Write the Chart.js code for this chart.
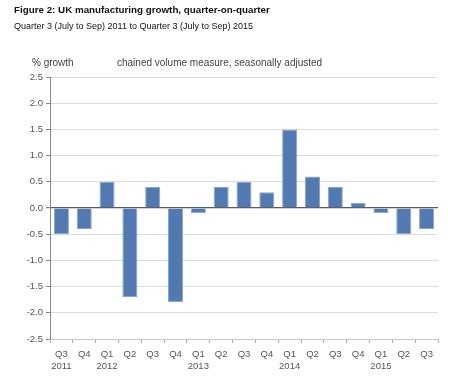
<!DOCTYPE html>
<html><head><meta charset="utf-8">
<script src="https://cdn.jsdelivr.net/npm/chart.js@4"></script>
<style>
html,body{margin:0;padding:0;background:#fff;width:460px;height:381px;overflow:hidden;font-family:"Liberation Sans",Arial,sans-serif;}
#wrap{position:relative;width:460px;height:381px;}
canvas{position:absolute;left:0;top:0;}
.t{position:absolute;white-space:nowrap;}
#title{left:14px;top:4px;font-size:9.8px;font-weight:bold;color:#111;}
#sub{left:14px;top:21px;font-size:9px;color:#111;}
#unit{left:32px;top:57px;font-size:10px;color:#444;}
#meas{left:117px;top:57px;font-size:10px;color:#444;}
</style></head>
<body><div id="wrap">
<canvas id="c" width="460" height="381"></canvas>
<div class="t" id="title">Figure 2: UK manufacturing growth, quarter-on-quarter</div>
<div class="t" id="sub">Quarter 3 (July to Sep) 2011 to Quarter 3 (July to Sep) 2015</div>
<div class="t" id="unit">% growth</div>
<div class="t" id="meas">chained volume measure, seasonally adjusted</div>
</div>
<script>
const quarters = ["Q3","Q4","Q1","Q2","Q3","Q4","Q1","Q2","Q3","Q4","Q1","Q2","Q3","Q4","Q1","Q2","Q3"];
const years    = ["2011","","2012","","","","2013","","","","2014","","","","2015","",""];
const growth   = [-0.5,-0.4,0.5,-1.7,0.4,-1.8,-0.1,0.4,0.5,0.3,1.5,0.6,0.4,0.1,-0.1,-0.5,-0.4];
const yMin = -2.5, yMax = 2.5, yStep = 0.5;

const labels = quarters.map((q,i)=> years[i] ? [q, years[i]] : [q]);

new Chart(document.getElementById('c'), {
  type: 'bar',
  data: { labels, datasets: [{ data: growth, backgroundColor: '#5279b0', borderColor: '#8aa6cf', borderWidth: 1, barPercentage: 0.66, categoryPercentage: 1 }] },
  options: {
    responsive: false, animation: false,
    layout: { padding: { top: 77, left: 0, right: 22, bottom: 0 } },
    plugins: { legend: { display: false }, tooltip: { enabled: false } },
    scales: {
      y: {
        min: yMin, max: yMax,
        afterFit: s => { s.width = 50; },
        ticks: { stepSize: yStep, callback: v => v.toFixed(1), color: '#555', font: { family: 'Liberation Sans', size: 9.5 }, padding: 3 },
        grid: { color: ctx => ctx.tick && ctx.tick.value === 0 ? '#5a5a5a' : '#dcdcdc', lineWidth: ctx => ctx.tick && ctx.tick.value === 0 ? 1.2 : 1, tickColor: '#888', tickLength: 4 },
        border: { color: '#888', width: 1 }
      },
      x: {
        afterFit: s => { s.height = 42; },
        ticks: { color: '#555', font: { family: 'Liberation Sans', size: 9.5 }, maxRotation: 0, autoSkip: false, padding: 6 },
        grid: { drawOnChartArea: false, offset: true, tickColor: '#aaa', tickLength: 4 },
        border: { color: '#c8c8c8', width: 1 }
      }
    }
  }
});
</script>
</body></html>
